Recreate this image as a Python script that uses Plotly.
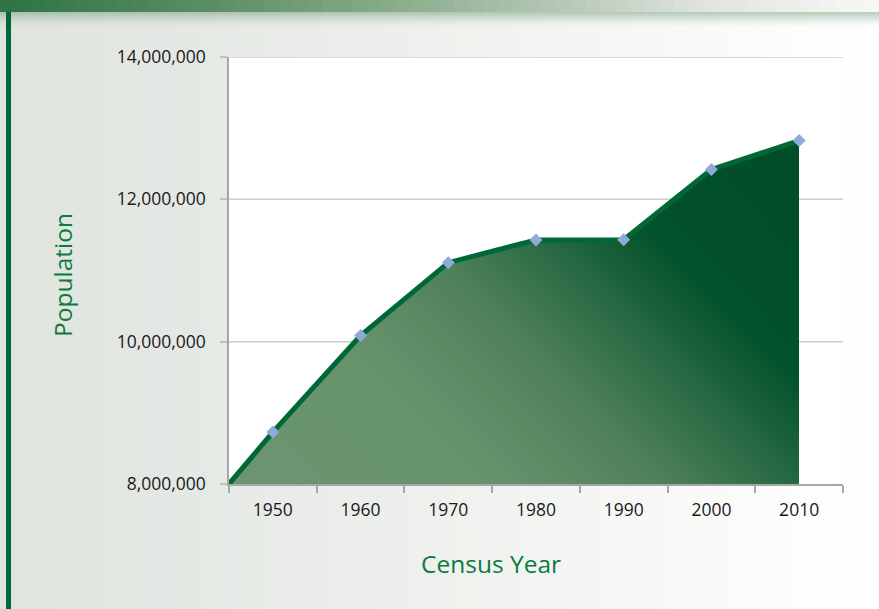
import base64
import plotly.graph_objects as go

# ---- data ----
census_years = [1950, 1960, 1970, 1980, 1990, 2000, 2010]
population = [8730000, 10085000, 11110000, 11430000, 11432000, 12420000, 12825000]
year_labels = ["1950", "1960", "1970", "1980", "1990", "2000", "2010"]
# the filled area starts at the left edge of the plot on the axis minimum
edge_year = 1945
edge_population = 8000000

x_range = [1945, 2015]
y_range = [8000000, 14000000]
y_ticks = [8000000, 10000000, 12000000, 14000000]
x_title = "Census Year"
y_title = "Population"

area_x = [edge_year] + census_years
area_y = [edge_population] + population

GREEN = "#006837"
TITLE_GREEN = "#0b7a40"
GRID = "#cccccc"

W, H = 879, 609
ml, mr, mt, mb = 229, 36, 57, 125
pw, ph = W - ml - mr, H - mt - mb


def px_x(px):
    return (px - ml) / pw


def px_y(py):
    return (H - mb - py) / ph


# ---- diagonal gradient for the area (an SVG image placed under the area) ----
gx0, gx1 = area_x[0], area_x[-1]
gy0, gy1 = y_range[0], max(area_y)
img_w = (gx1 - gx0) / (x_range[1] - x_range[0]) * pw
img_h = (gy1 - gy0) / (y_range[1] - y_range[0]) * ph
d = (img_w + img_h) / 2
svg = (
    f'<svg xmlns="http://www.w3.org/2000/svg" width="{img_w:.1f}" height="{img_h:.1f}" '
    f'viewBox="0 0 {img_w:.1f} {img_h:.1f}" preserveAspectRatio="none">'
    f'<defs><linearGradient id="g" gradientUnits="userSpaceOnUse" '
    f'x1="0" y1="{img_h:.1f}" x2="{d:.1f}" y2="{img_h - d:.1f}">'
    '<stop offset="0" stop-color="#6b9671"/>'
    '<stop offset="0.30" stop-color="#66926c"/>'
    '<stop offset="0.48" stop-color="#4e8059"/>'
    '<stop offset="0.62" stop-color="#256842"/>'
    '<stop offset="0.74" stop-color="#02522b"/>'
    '<stop offset="1" stop-color="#004c27"/>'
    '</linearGradient></defs>'
    f'<rect x="0" y="0" width="{img_w:.1f}" height="{img_h:.1f}" fill="url(#g)"/></svg>'
)
svg_uri = "data:image/svg+xml;base64," + base64.b64encode(svg.encode()).decode()

fig = go.Figure()

# white mask above the area line (and right of the last point)
mask_x = area_x + [area_x[-1], x_range[1], x_range[1], x_range[0], area_x[0]]
mask_y = area_y + [y_range[0], y_range[0], y_range[1], y_range[1], area_y[0]]
fig.add_trace(go.Scatter(
    x=mask_x, y=mask_y, mode="lines", line=dict(width=0),
    fill="toself", fillcolor="#ffffff", hoverinfo="skip", showlegend=False))


# gridlines only where they are not hidden by the area
def free_intervals(level):
    segs = []
    for i in range(len(area_x) - 1):
        xa, xb = area_x[i], area_x[i + 1]
        ya, yb = area_y[i], area_y[i + 1]
        if ya >= level and yb >= level:
            continue
        if ya < level and yb < level:
            segs.append([xa, xb])
            continue
        xc = xa + (level - ya) / (yb - ya) * (xb - xa)
        segs.append([xa, xc] if ya < level else [xc, xb])
    segs.append([area_x[-1], x_range[1]])
    merged = []
    for s in segs:
        if merged and abs(merged[-1][1] - s[0]) < 1e-9:
            merged[-1][1] = s[1]
        else:
            merged.append(list(s))
    return merged


gx, gy = [], []
for lvl in y_ticks[1:]:
    for a, b in free_intervals(lvl):
        gx += [a, b, None]
        gy += [lvl, lvl, None]
fig.add_trace(go.Scatter(x=gx, y=gy, mode="lines", line=dict(color=GRID, width=1.5),
                         hoverinfo="skip", showlegend=False))

fig.add_trace(go.Scatter(
    x=area_x, y=area_y, mode="lines",
    line=dict(color=GREEN, width=5),
    hoverinfo="skip", showlegend=False))

fig.add_trace(go.Scatter(
    x=census_years, y=population, mode="markers",
    marker=dict(symbol="diamond", size=10, color="#8eaad8", line=dict(width=0)),
    showlegend=False))

# ---- background decoration ----
shapes = []


def lerp(c1, c2, t):
    a = [int(c1[i:i + 2], 16) for i in (1, 3, 5)]
    b = [int(c2[i:i + 2], 16) for i in (1, 3, 5)]
    return "#%02x%02x%02x" % tuple(round(a[k] + (b[k] - a[k]) * t) for k in range(3))


def grad(stops, t):
    for i in range(len(stops) - 1):
        t0, c0 = stops[i]
        t1, c1 = stops[i + 1]
        if t0 <= t <= t1:
            return lerp(c0, c1, (t - t0) / (t1 - t0) if t1 > t0 else 0)
    return stops[-1][1]


bg_stops = [(0, "#dfe4df"), (0.35, "#e9ece8"), (0.7, "#f6f7f5"), (1, "#ffffff")]
hdr_stops = [(0, "#2d7246"), (0.25, "#5d8f68"), (0.45, "#8aad8c"), (0.65, "#b9c9b9"),
             (0.8, "#dfe4de"), (1, "#f8f9f7")]
n = 60
for i in range(n):
    t = (i + 0.5) / n
    shapes.append(dict(type="rect", xref="paper", yref="paper", layer="below",
                       x0=px_x(W * i / n), x1=px_x(W * (i + 1) / n + 1),
                       y0=px_y(H), y1=px_y(0), line=dict(width=0),
                       fillcolor=grad(bg_stops, t)))

for j in range(16):
    y0 = 12 + j
    op = 0.55 * (1 - j / 16) ** 1.6
    shapes.append(dict(type="rect", xref="paper", yref="paper", layer="below",
                       x0=px_x(0), x1=px_x(W), y0=px_y(y0 + 1), y1=px_y(y0),
                       line=dict(width=0), fillcolor="#7ea482", opacity=op))

for i in range(n):
    t = (i + 0.5) / n
    shapes.append(dict(type="rect", xref="paper", yref="paper", layer="below",
                       x0=px_x(W * i / n), x1=px_x(W * (i + 1) / n + 1),
                       y0=px_y(12), y1=px_y(0), line=dict(width=0),
                       fillcolor=grad(hdr_stops, t)))

shapes.append(dict(type="rect", xref="paper", yref="paper", layer="below",
                   x0=px_x(6), x1=px_x(11), y0=px_y(H), y1=px_y(12),
                   line=dict(width=0), fillcolor=GREEN))

annotations = [
    dict(text=x_title, xref="paper", yref="paper", x=px_x(491), y=px_y(563),
         xanchor="center", yanchor="middle", showarrow=False,
         font=dict(size=24.5, color=TITLE_GREEN)),
    dict(text=y_title, xref="paper", yref="paper", x=px_x(62), y=px_y(275),
         xanchor="center", yanchor="middle", showarrow=False, textangle=-90,
         font=dict(size=24.5, color=TITLE_GREEN)),
]

images = [dict(source=svg_uri, xref="x", yref="y", x=gx0, y=gy1,
               sizex=gx1 - gx0, sizey=gy1 - gy0, xanchor="left", yanchor="top",
               sizing="stretch", layer="below", opacity=1)]

fig.update_layout(
    width=W, height=H,
    margin=dict(l=ml, r=mr, t=mt, b=mb),
    paper_bgcolor="#eef0ec",
    plot_bgcolor="#ffffff",
    font=dict(family="Open Sans, sans-serif", size=17, color="#1a1a1a"),
    shapes=shapes,
    annotations=annotations,
    images=images,
    showlegend=False,
    xaxis=dict(
        range=x_range, tickvals=census_years, ticktext=year_labels,
        ticks="", showgrid=False, zeroline=False,
        showline=True, linecolor="#a6a6a6", linewidth=1.5,
        tickfont=dict(size=17.5, color="#1a1a1a"),
        ticklabelstandoff=9,
        minor=dict(ticks="outside", tick0=x_range[0], dtick=10, ticklen=7,
                   tickcolor="#a6a6a6", tickwidth=1.5, showgrid=False),
        fixedrange=True,
    ),
    yaxis=dict(
        range=y_range, tickvals=y_ticks, tickformat=",",
        ticks="outside", ticklen=7, tickcolor="#c0c0c0", tickwidth=1.5,
        showgrid=False, zeroline=False,
        showline=True, linecolor="#a6a6a6", linewidth=1.5,
        tickfont=dict(size=17.5, color="#1a1a1a"),
        ticklabelstandoff=11,
        fixedrange=True,
    ),
)

fig.write_html("out.html", config={"displayModeBar": False},
               post_script="document.body.style.margin='0';")
